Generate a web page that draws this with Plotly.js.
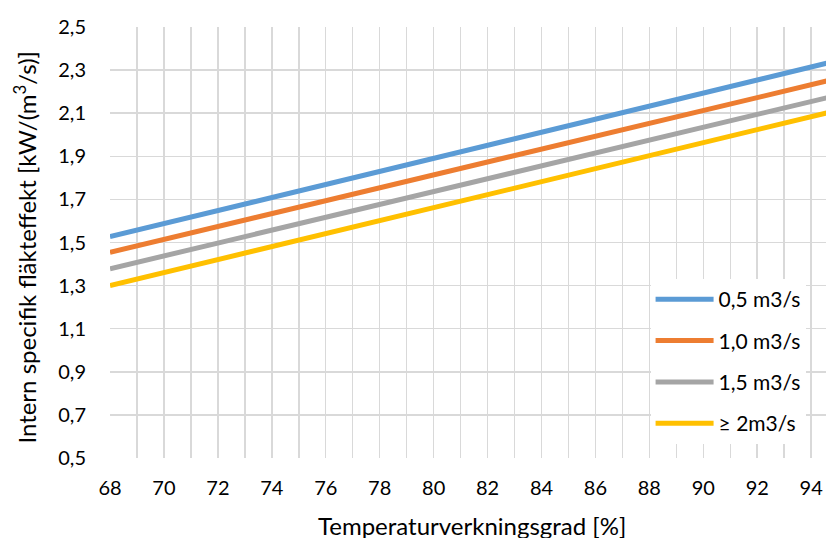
<!DOCTYPE html>
<html>
<head>
<meta charset="utf-8">
<script src="https://cdn.plot.ly/plotly-3.0.1.min.js"></script>
<style>html,body{margin:0;padding:0;background:#fff;}#chart{width:826px;height:538px;}</style>
</head>
<body>
<div id="chart"></div>
<script>
const xValues = [68, 95];
const seriesNames = ["0,5 m3/s", "1,0 m3/s", "1,5 m3/s", "\u2265 2m3/s"];
const flow05 = [1.527, 2.345];
const flow10 = [1.455, 2.262];
const flow15 = [1.378, 2.184];
const flow20 = [1.300, 2.114];
const xTickValues = [68, 70, 72, 74, 76, 78, 80, 82, 84, 86, 88, 90, 92, 94];
const yTickValues = [0.5, 0.7, 0.9, 1.1, 1.3, 1.5, 1.7, 1.9, 2.1, 2.3, 2.5];
const yTickLabels = ["0,5", "0,7", "0,9", "1,1", "1,3", "1,5", "1,7", "1,9", "2,1", "2,3", "2,5"];
const xTitle = "Temperaturverkningsgrad [%]";
const yTitle = "Intern specifik fläkteffekt [kW/(m<sup>3</sup>/s)]";
const colors = ["#5B9BD5", "#ED7D31", "#A5A5A5", "#FFC000"];
const allSeries = [flow05, flow10, flow15, flow20];

const font = "Lato, 'Open Sans', 'Noto Sans', sans-serif";
const traces = allSeries.map((ys, i) => ({
  x: xValues, y: ys, type: "scatter", mode: "lines",
  name: seriesNames[i], legendgroup: "g" + i,
  line: {color: colors[i], width: 5}
}));

const layout = {
  width: 826, height: 538,
  margin: {l: 110, r: 0, t: 27, b: 80},
  paper_bgcolor: "#fff", plot_bgcolor: "#fff",
  font: {family: font, color: "#000", size: 20},
  showlegend: true,
  legend: {
    x: 0.755, y: 0.415, xanchor: "left", yanchor: "top",
    bgcolor: "#fff", borderwidth: 0,
    font: {family: font, size: 21, color: "#000"},
    tracegroupgap: 11, traceorder: "grouped", itemwidth: 58
  },
  annotations: [
    {text: xTitle, xref: "paper", yref: "paper", x: 0.506, y: -0.157,
     xanchor: "center", yanchor: "middle", showarrow: false,
     font: {family: font, size: 24, color: "#000"}},
    {text: yTitle, xref: "paper", yref: "paper", x: -0.119, y: 0.49,
     xanchor: "center", yanchor: "middle", textangle: -90, showarrow: false,
     font: {family: font, size: 24, color: "#000"}}
  ],
  xaxis: {
    range: [68, 94.55],
    tickvals: xTickValues, ticktext: xTickValues.map(String),
    showgrid: true, gridcolor: "#d9d9d9", gridwidth: 1.5,
    minor: {dtick: 1, tick0: 68, showgrid: true, gridcolor: "#d9d9d9", gridwidth: 1.5},
    zeroline: false, showline: false, ticks: "",
    ticklabelstandoff: 16,
    tickfont: {family: font, size: 20},
    automargin: false
  },
  yaxis: {
    range: [0.5, 2.5],
    tickvals: yTickValues, ticktext: yTickLabels,
    showgrid: true, gridcolor: "#d9d9d9", gridwidth: 1.5,
    zeroline: false, showline: false, ticks: "",
    ticklabelstandoff: 23,
    tickfont: {family: font, size: 20},
    automargin: false
  }
};

Plotly.newPlot("chart", traces, layout, {displayModeBar: false, staticPlot: true});
</script>
</body>
</html>
